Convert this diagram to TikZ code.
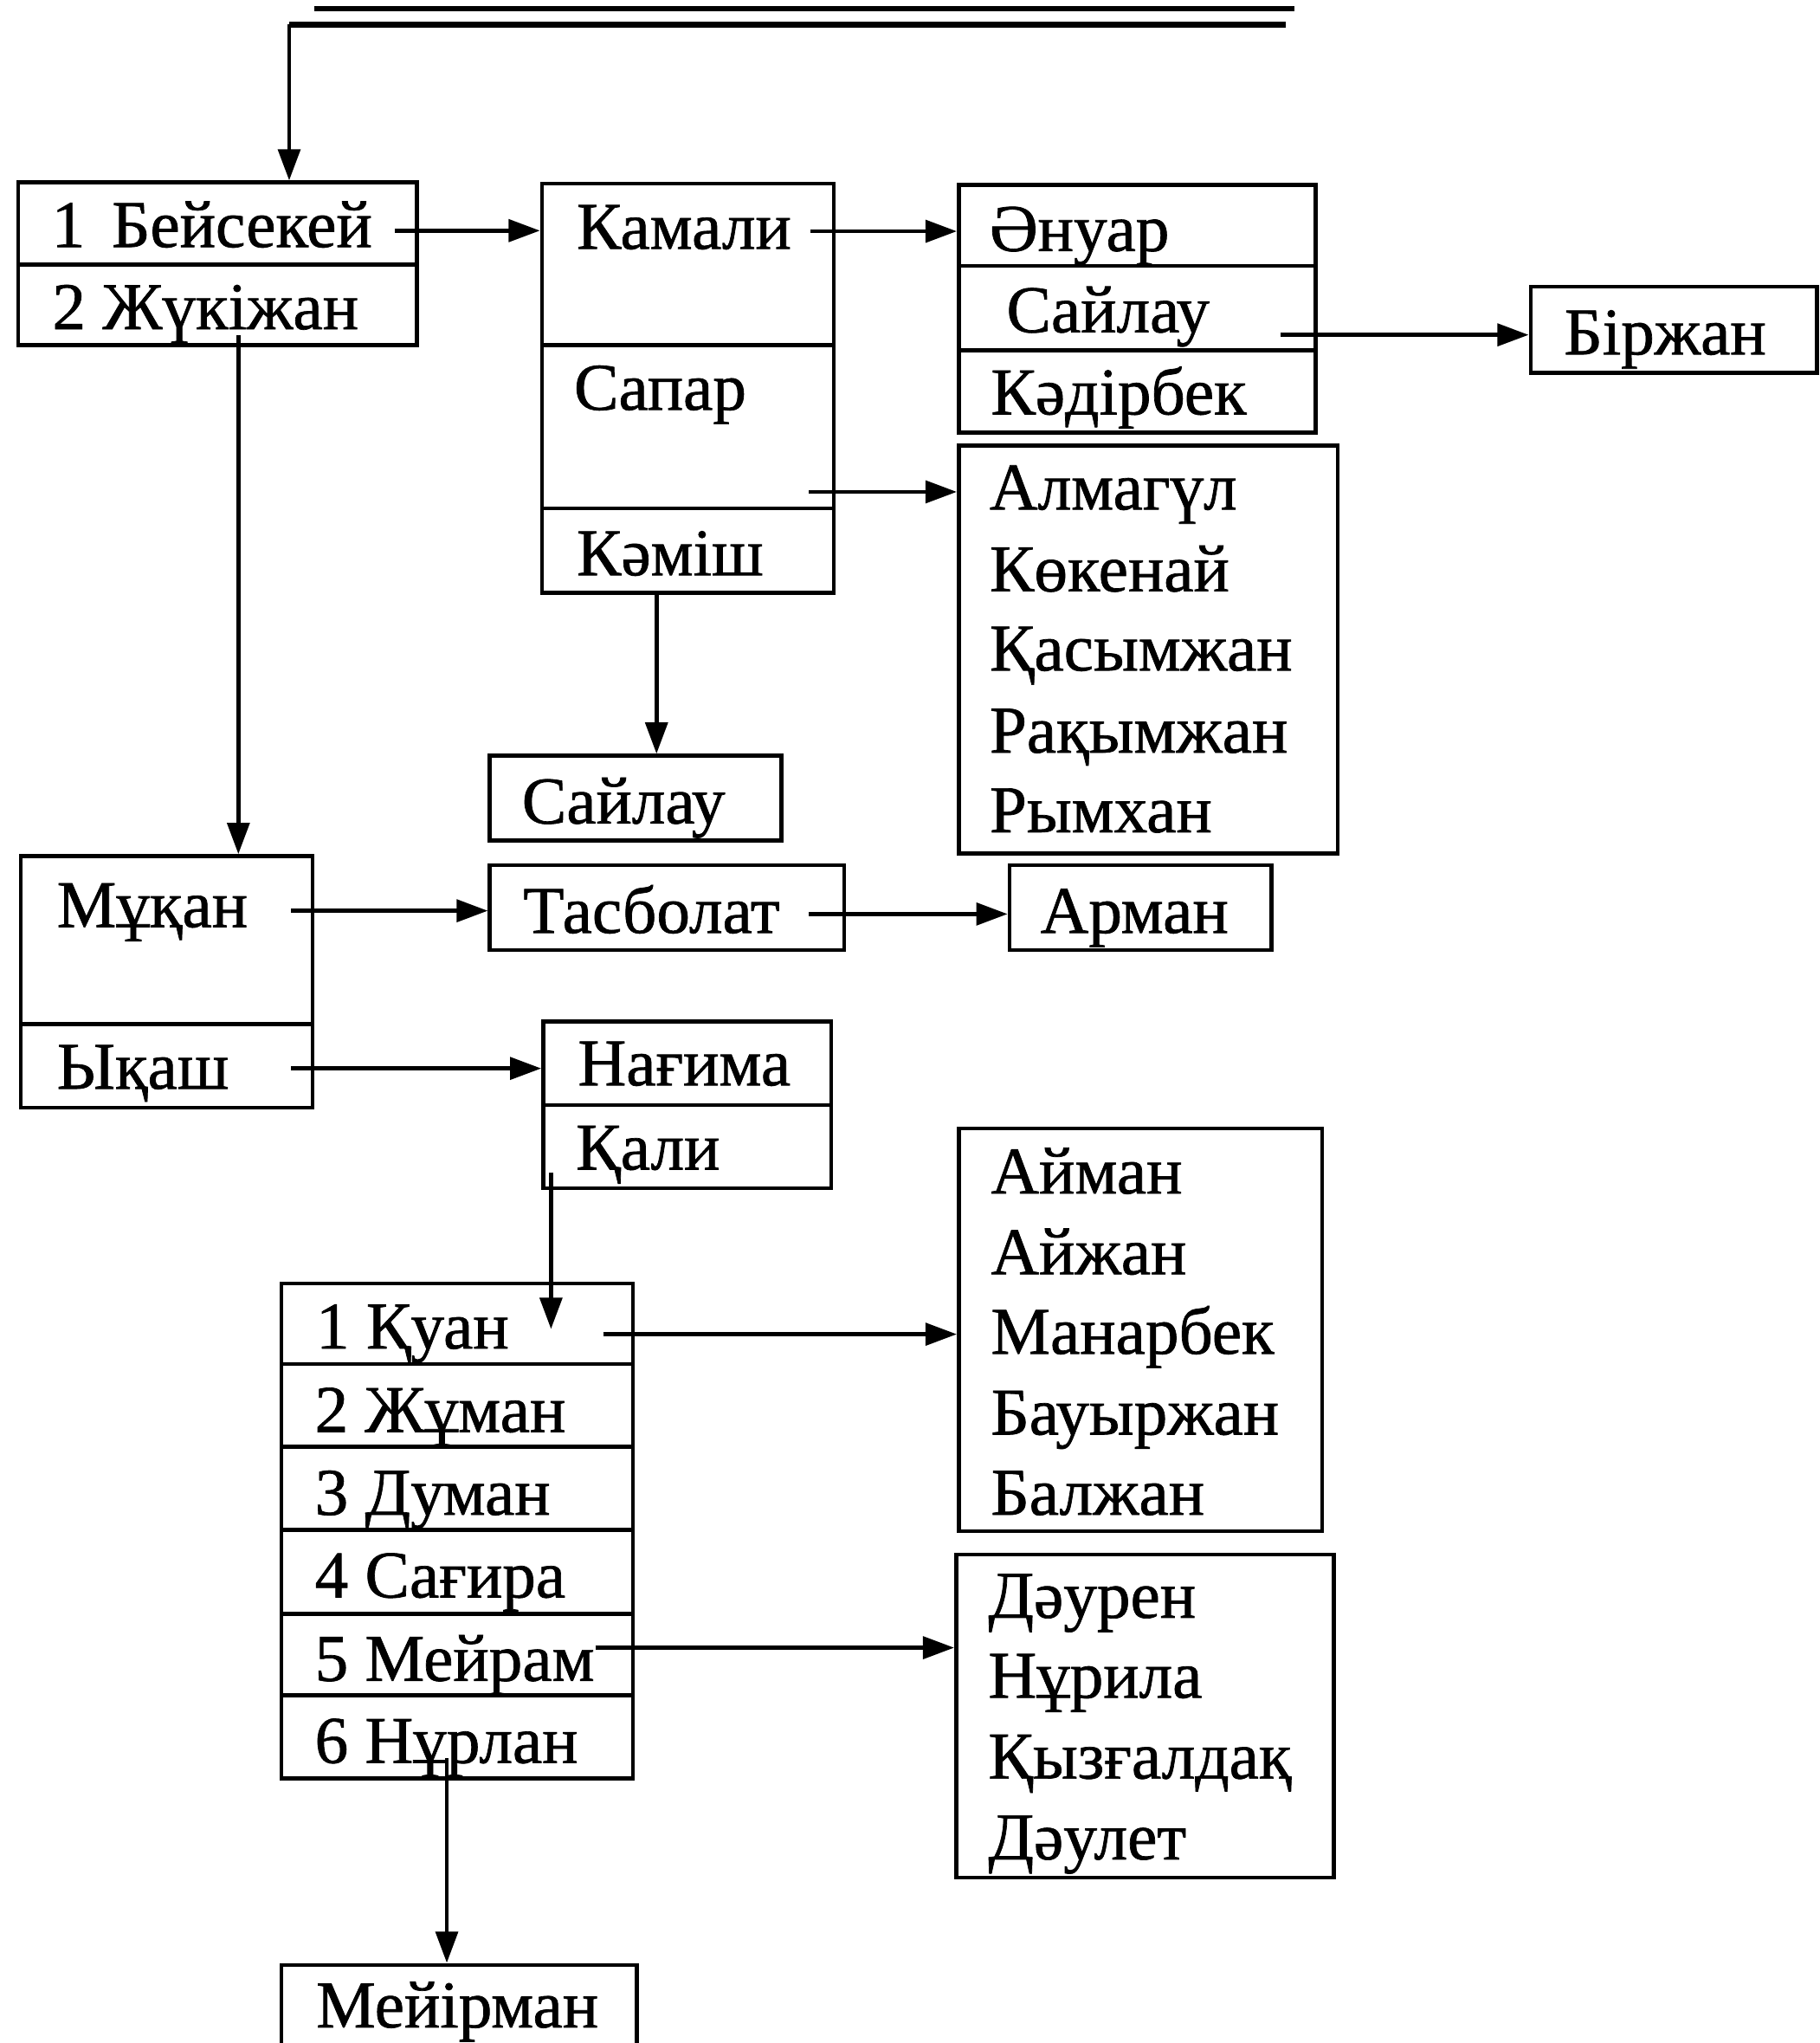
\documentclass[tikz,border=0pt]{standalone}
\usepackage{fontspec}
\setmainfont{Liberation Serif}
\newfontfamily\lblfont{Liberation Serif}[FakeBold=0.9]
\usetikzlibrary{arrows.meta,fit}
\begin{document}
\begin{tikzpicture}[x=0.1mm,y=-0.1mm,
  cell/.style={draw, line width=0.3mm, inner sep=0pt},
  lbl/.style={anchor=base west, inner sep=0pt, font=\lblfont\fontsize{14.6}{17}\selectfont},
  arr/.style={line width=0.3mm, -{Triangle[length=2.4mm,width=1.7mm]}},
  rule/.style={line width=0.45mm}]
\useasboundingbox (0,0) rectangle (1397,1568);

% ---- boxes (cells) ----
\node[cell, fit={(14,140) (320,203)}] (A1) {};
\node[cell, fit={(14,203) (320,265)}] (A2) {};
\node[cell, fit={(416,141) (640,265)}] (B1) {};
\node[cell, fit={(416,265) (640,390)}] (B2) {};
\node[cell, fit={(416,390) (640,455)}] (B3) {};
\node[cell, fit={(736,142) (1010,204)}] (C1) {};
\node[cell, fit={(736,204) (1010,269)}] (C2) {};
\node[cell, fit={(736,269) (1010,332)}] (C3) {};
\node[cell, fit={(1175,220) (1395,286)}] (BJ) {};
\node[cell, fit={(736,342) (1027,655)}] (D) {};
\node[cell, fit={(376,580) (600,645)}] (E) {};
\node[cell, fit={(16,657) (240,786)}] (F1) {};
\node[cell, fit={(16,786) (240,850)}] (F2) {};
\node[cell, fit={(376,664) (648,729)}] (G) {};
\node[cell, fit={(775,664) (976,729)}] (H) {};
\node[cell, fit={(417,784) (638,848)}] (I1) {};
\node[cell, fit={(417,848) (638,912)}] (I2) {};
\node[cell, fit={(216,985) (486,1047)}] (J1) {};
\node[cell, fit={(216,1047) (486,1110.5)}] (J2) {};
\node[cell, fit={(216,1110.5) (486,1174)}] (J3) {};
\node[cell, fit={(216,1174) (486,1238.5)}] (J4) {};
\node[cell, fit={(216,1238.5) (486,1301)}] (J5) {};
\node[cell, fit={(216,1301) (486,1365)}] (J6) {};
\node[cell, fit={(736,866) (1015,1175)}] (K) {};
\node[cell, fit={(734,1193) (1024,1441)}] (L) {};
\node[cell, fit={(216,1508) (489,1580)}] (M) {};

% ---- texts ----
\node[lbl] (tA1) at (39,189.6) {1\hspace{0.4em}Бейсекей};
\node[lbl] (tA2) at (39.5,252.6) {2 Жүкіжан};
\node[lbl] (tB1) at (442,191) {Камали};
\node[lbl] (tB2) at (440,314.5) {Сапар};
\node[lbl] (tB3) at (442,441.5) {Кәміш};
\node[lbl] (tC1) at (759,192.6) {Әнуар};
\node[lbl] (tC2) at (772,255) {Сайлау};
\node[lbl] (tC3) at (760,318) {Кәдірбек};
\node[lbl] (tBJ) at (1200,272) {Біржан};
\node[lbl] (tD1) at (759,391) {Алмагүл};
\node[lbl] (tD2) at (759,453.8) {Көкенай};
\node[lbl] (tD3) at (759,514.6) {Қасымжан};
\node[lbl] (tD4) at (759,577.6) {Рақымжан};
\node[lbl] (tD5) at (759,638.7) {Рымхан};
\node[lbl] (tE) at (400,632) {Сайлау};
\node[lbl] (tF1) at (43,711.5) {Мұқан};
\node[lbl] (tF2) at (43,835.6) {Ықаш};
\node[lbl] (tG) at (401,716) {Тасболат};
\node[lbl] (tH) at (798,716) {Арман};
\node[lbl] (tI1) at (443,833) {Нағима};
\node[lbl] (tI2) at (441.5,897.6) {Қали};
\node[lbl] (tJ1) at (242,1035) {1 Қуан};
\node[lbl] (tJ2) at (241,1099) {2 Жұман};
\node[lbl] (tJ3) at (241,1162.6) {3 Думан};
\node[lbl] (tJ4) at (241,1226) {4 Сағира};
\node[lbl] (tJ5) at (241,1290) {5 Мейрам};
\node[lbl] (tJ6) at (241,1353) {6 Нұрлан};
\node[lbl] (tK1) at (760,916) {Айман};
\node[lbl] (tK2) at (760,978) {Айжан};
\node[lbl] (tK3) at (760,1039) {Манарбек};
\node[lbl] (tK4) at (760,1101) {Бауыржан};
\node[lbl] (tK5) at (760,1162.6) {Балжан};
\node[lbl] (tL1) at (758,1241.6) {Дәурен};
\node[lbl] (tL2) at (758,1303) {Нұрила};
\node[lbl] (tL3) at (758,1365) {Қызғалдақ};
\node[lbl] (tL4) at (758,1427) {Дәулет};
\node[lbl] (tM) at (242,1556) {Мейірман};

% ---- top rules ----
\coordinate (r1a) at (241,6.7);
\coordinate (r1b) at (994,6.7);
\coordinate (tR) at (987,18.8);
\coordinate (tL) at (222,18.8);
\draw[rule] (r1a) -- (r1b);
\draw[rule] (tR) -- (tL);
\draw[arr] (tL) -- (tL |- A1.north);

% ---- connector start points ----
\coordinate (sBe) at (303,177);
\coordinate (sKa) at (622,177.5);
\coordinate (sSa) at (983,257);
\coordinate (sSp) at (621,377.5);
\coordinate (sKm) at (504,455);
\coordinate (sZh) at (183,257);
\coordinate (sMu) at (223.5,699);
\coordinate (sTa) at (621,701.5);
\coordinate (sYk) at (223.5,820);
\coordinate (sQa) at (423,900);
\coordinate (eQa) at (423,1020);
\coordinate (sKu) at (463,1024);
\coordinate (sMe) at (457,1264.6);
\coordinate (sNu) at (343,1349.6);

% ---- connectors ----
\draw[arr] (sBe) -- (sBe -| B1.west);
\draw[arr] (sKa) -- (sKa -| C1.west);
\draw[arr] (sSa) -- (sSa -| BJ.west);
\draw[arr] (sSp) -- (sSp -| D.west);
\draw[arr] (sKm) -- (sKm |- E.north);
\draw[arr] (sZh) -- (sZh |- F1.north);
\draw[arr] (sMu) -- (sMu -| G.west);
\draw[arr] (sTa) -- (sTa -| H.west);
\draw[arr] (sYk) -- (sYk -| I1.west);
\draw[arr] (sQa) -- (eQa);
\draw[arr] (sKu) -- (sKu -| K.west);
\draw[arr] (sMe) -- (sMe -| L.west);
\draw[arr] (sNu) -- (sNu |- M.north);
\end{tikzpicture}
\end{document}
